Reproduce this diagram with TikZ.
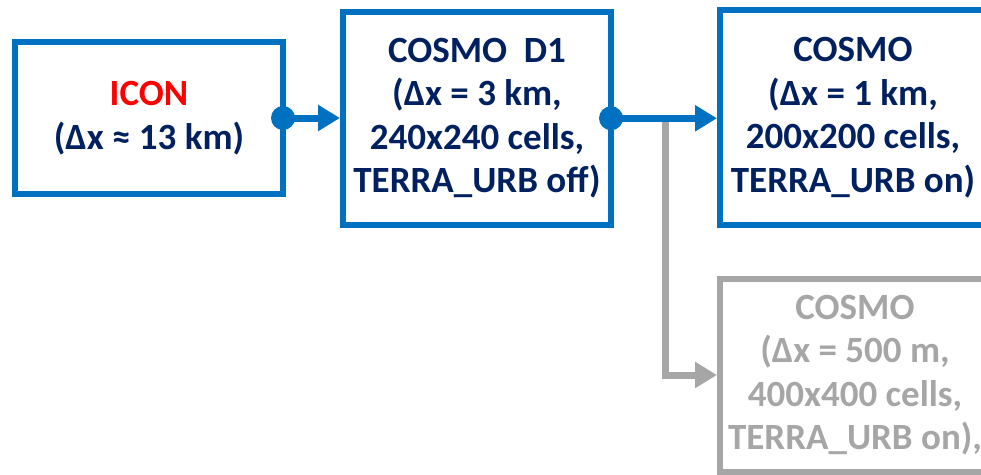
\documentclass[tikz,border=0pt]{standalone}
\usepackage{fontspec}
\setmainfont{Carlito}
\usetikzlibrary{arrows.meta}
\definecolor{myblue}{HTML}{0070C0}
\definecolor{navy}{HTML}{002060}
\definecolor{myred}{HTML}{FF0000}
\definecolor{mygray}{HTML}{A6A6A6}
\tikzset{
  box/.style={draw=myblue, line width=6pt, inner sep=0pt, outer sep=0pt, align=center,
    text=navy, font=\fontsize{37}{43.5}\selectfont\bfseries},
  graybox/.style={box, draw=mygray, text=mygray},
  conn/.style={draw=myblue, line width=7pt, -{Triangle[length=22pt,width=25pt]}},
  grayconn/.style={draw=mygray, line width=7pt, -{Triangle[length=22pt,width=25pt]}},
  dot/.style={fill=myblue}
}
\begin{document}
\begin{tikzpicture}[x=1pt,y=-1pt]
\useasboundingbox (0,0) rectangle (981,474);
\clip (0,0) rectangle (981,474);
\node[box, minimum width=268pt, minimum height=152pt] (icon) at (149,118)
  {\textcolor{myred}{ICON}\\(Δx ≈ 13 km)};
\node[box, minimum width=268pt, minimum height=213.5pt] (d1) at (477,118.25)
  {COSMO\ \ D1\\(Δx = 3 km,\\240x240 cells,\\TERRA\_URB off)};
\node[box, minimum width=266pt, minimum height=215pt] (c1) at (853,117.5)
  {COSMO\\(Δx = 1 km,\\200x200 cells,\\TERRA\_URB on)};
\node[graybox, minimum width=270pt, minimum height=193pt] (c2) at (855,375)
  {COSMO\\(Δx = 500 m,\\400x400 cells,\\TERRA\_URB on),};
\coordinate (g) at (665.5,118);
\draw[grayconn, shorten >=3pt] (g) |- (c2.west);
\draw[conn, shorten >=3pt] (icon.east) -- (d1.west |- icon.east);
\draw[conn, shorten >=3pt] (d1.east) -- (d1.east -| c1.west);
\fill[dot] (icon.east) circle (12pt);
\fill[dot] (d1.east) circle (12pt);
\end{tikzpicture}
\end{document}
